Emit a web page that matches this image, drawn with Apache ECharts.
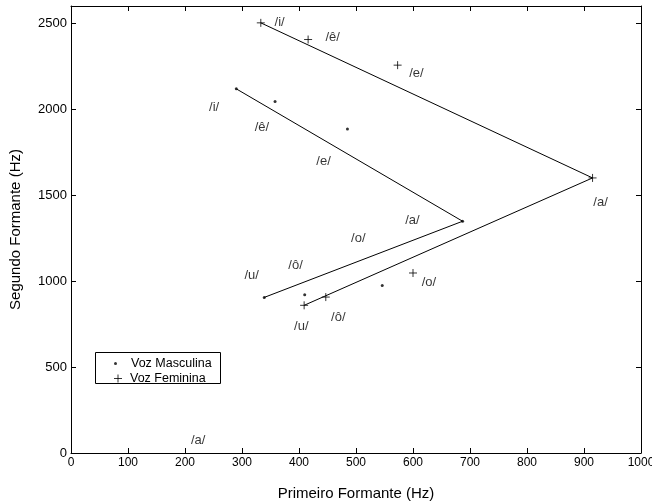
<!DOCTYPE html>
<html>
<head>
<meta charset="utf-8">
<script src="https://cdn.jsdelivr.net/npm/echarts@6/dist/echarts.min.js"></script>
<style>
html, body { margin: 0; padding: 0; background: #fff; }
#chart { width: 652px; height: 504px; }
</style>
</head>
<body>
<div id="chart"></div>
<script>
// vogais: i, ê, e, a, o, ô, u
var vowels = ['/i/', '/ê/', '/e/', '/a/', '/o/', '/ô/', '/u/'];

// Voz Masculina (F1, F2)
var maleF1 = [290, 358, 485, 687, 546, 410, 339];
var maleF2 = [2118, 2045, 1885, 1348, 975, 920, 905];

// Voz Feminina (F1, F2)
var femaleF1 = [333, 416, 573, 915, 600, 447, 409];
var femaleF2 = [2502, 2405, 2256, 1600, 1047, 907, 859];

// rotulos (posicao em Hz)
var labelText = ['/i/', '/ê/', '/e/', '/a/', '/o/', '/ô/', '/u/',
                 '/i/', '/ê/', '/e/', '/a/', '/o/', '/ô/', '/u/', '/a/'];
var labelX = [366, 459, 606, 929, 628, 469, 404,
              251, 335, 443, 599, 504, 394, 317, 223];
var labelY = [2502, 2417, 2208, 1460, 992, 787, 734,
              2010, 1891, 1694, 1355, 1248, 1093, 1035, 76];

var xTicks = [0, 1000, 100];
var yTicks = [0, 2600, 500];

var chart = echarts.init(document.getElementById('chart'));

function pairs(xs, ys) {
	var out = [];
	for (var i = 0; i < xs.length; i++) out.push([xs[i], ys[i]]);
	return out;
}
// linha i -> a -> u
function triangle(xs, ys) {
	return [[xs[0], ys[0]], [xs[3], ys[3]], [xs[6], ys[6]]];
}

var labelData = [];
for (var i = 0; i < labelText.length; i++) {
	labelData.push({ value: [labelX[i], labelY[i]], name: labelText[i] });
}

var plusPath = 'path://M0,5L10,5M5,0L5,10';
var font = 'Liberation Sans, Arial, sans-serif';

var axisCommon = {
	type: 'value',
	axisLine: { show: true, onZero: false, lineStyle: { color: '#000', width: 1 } },
	axisTick: { show: true, inside: true, length: 5, lineStyle: { color: '#000' } },
	splitLine: { show: false }
};

var option = {
	animation: false,
	textStyle: { fontFamily: font },
	grid: { left: 71, right: 11, top: 6, bottom: 51, containLabel: false, outerBoundsMode: 'none' },
	xAxis: [
		Object.assign({}, axisCommon, {
			min: xTicks[0], max: xTicks[1], interval: xTicks[2],
			position: 'bottom',
			name: 'Primeiro Formante (Hz)',
			nameLocation: 'middle',
			nameGap: 33,
			nameTextStyle: { fontFamily: font, fontSize: 15, color: '#000' },
			axisLabel: { fontFamily: font, fontSize: 12, color: '#000', margin: 4,
				formatter: function (v) { return String(v); } }
		}),
		Object.assign({}, axisCommon, {
			min: xTicks[0], max: xTicks[1], interval: xTicks[2],
			position: 'top',
			axisLabel: { show: false }
		})
	],
	yAxis: [
		Object.assign({}, axisCommon, {
			min: yTicks[0], max: yTicks[1], interval: yTicks[2],
			position: 'left',
			name: 'Segundo Formante (Hz)',
			nameLocation: 'middle',
			nameGap: 48,
			nameTextStyle: { fontFamily: font, fontSize: 15, color: '#000' },
			axisLabel: { fontFamily: font, fontSize: 13, color: '#000', margin: 4, showMaxLabel: false,
				formatter: function (v) { return String(v); } }
		}),
		Object.assign({}, axisCommon, {
			min: yTicks[0], max: yTicks[1], interval: yTicks[2],
			position: 'right',
			axisLabel: { show: false }
		})
	],
	legend: [{
		data: [{ name: 'Voz Masculina', icon: 'circle' }],
		left: 114, top: 357,
		itemWidth: 3, itemHeight: 3, itemGap: 0, padding: 0,
		textStyle: { fontFamily: font, fontSize: 12.5, color: '#000', padding: [0, 0, 0, 9] }
	}, {
		data: [{ name: 'Voz Feminina', icon: plusPath, itemStyle: { color: 'none', borderColor: '#000', borderWidth: 1 } }],
		left: 111.5, top: 372,
		itemWidth: 8, itemHeight: 8, itemGap: 0, padding: 0,
		textStyle: { fontFamily: font, fontSize: 12.5, color: '#000', padding: [0, 0, 0, 3] }
	}],
	graphic: [{
		type: 'rect',
		shape: { x: 95.5, y: 352.5, width: 125, height: 31 },
		style: { fill: 'none', stroke: '#000', lineWidth: 1 },
		z: 1
	}],
	series: [{
		name: 'linha masc',
		type: 'line',
		data: triangle(maleF1, maleF2),
		symbol: 'none',
		lineStyle: { color: '#000', width: 1 },
		silent: true
	}, {
		name: 'linha fem',
		type: 'line',
		data: triangle(femaleF1, femaleF2),
		symbol: 'none',
		lineStyle: { color: '#000', width: 1 },
		silent: true
	}, {
		name: 'Voz Masculina',
		type: 'scatter',
		data: pairs(maleF1, maleF2),
		symbol: 'circle',
		symbolSize: 3,
		itemStyle: { color: '#000' }
	}, {
		name: 'Voz Feminina',
		type: 'scatter',
		data: pairs(femaleF1, femaleF2),
		symbol: plusPath,
		symbolSize: 8,
		itemStyle: { color: 'none', borderColor: '#000', borderWidth: 1 }
	}, {
		name: 'rotulos',
		type: 'scatter',
		data: labelData,
		symbolSize: 0,
		label: {
			show: true,
			position: 'inside',
			formatter: function (p) { return p.name; },
			fontFamily: font,
			fontSize: 13,
			color: '#000'
		}
	}]
};

chart.setOption(option);
</script>
</body>
</html>
